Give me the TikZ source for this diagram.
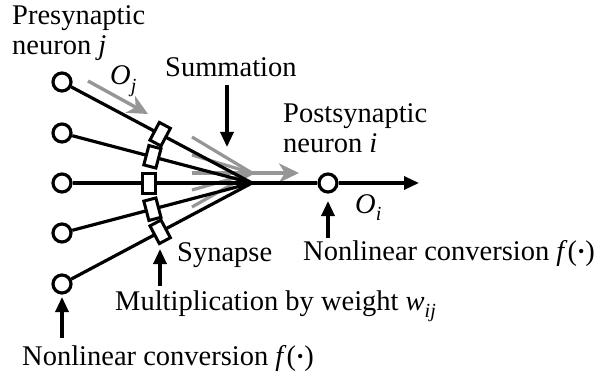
\documentclass[tikz,border=0pt]{standalone}
\usepackage{fontspec}
\setmainfont{Liberation Serif}
\usetikzlibrary{arrows.meta,calc}
\definecolor{grayarr}{RGB}{150,150,150}
\newcommand{\subtxt}[1]{\raisebox{-0.28em}{\fontsize{20}{20}\selectfont\textit{#1}}}
\newcommand{\fdot}{\textit{f}(\kern1pt\raisebox{0.1em}{\fontsize{18}{18}\selectfont•}\kern1pt)}
\begin{document}
\begin{tikzpicture}[x=1pt,y=-1pt,
 neuron/.style={circle,draw,line width=3.2pt,fill=white,minimum size=18pt,inner sep=0pt},
 syn/.style={rectangle,draw,line width=3pt,fill=white,minimum width=12.5pt,minimum height=20pt,inner sep=0pt},
 wire/.style={line width=3.2pt},
 graywire/.style={line width=3.2pt,draw=grayarr},
 blackarrow/.style={line width=3.2pt,-{Triangle[length=15pt,width=13pt]}},
 grayarrow/.style={line width=3.4pt,draw=grayarr,-{Stealth[length=20pt,width=19pt,inset=6pt]}},
 lbl/.style={font=\fontsize{28.5}{30}\selectfont,inner sep=0pt,anchor=base west}
]
\path[use as bounding box] (0,0) rectangle (602,377);

% gray signal lines
\coordinate (g1) at (192,137);
\coordinate (g2) at (192,155);
\coordinate (g3) at (192,173);
\coordinate (g4) at (192,190);
\coordinate (g5) at (192,207);
\coordinate (G) at (252,173);
\coordinate (Gend) at (299,173);
\foreach \k in {1,...,5} \draw[graywire] (g\k) -- (G);
\draw[grayarrow] (G) -- (Gend);

% O_j gray arrow
\coordinate (oja) at (88,81);
\coordinate (ojb) at (148,114);
\draw[grayarrow] (oja) -- (ojb);

% neurons
\node[neuron] (n1) at (62,82) {};
\node[neuron] (n2) at (62,133) {};
\node[neuron] (n3) at (62,183) {};
\node[neuron] (n4) at (62,233) {};
\node[neuron] (n5) at (62,284) {};
\coordinate (C) at (252,183);
\node[neuron] (post) at (328,183) {};
\coordinate (out) at (419,183);

\foreach \k in {1,...,5} \draw[wire] (n\k) -- (C);
\draw[wire] (C) -- (post);
\draw[blackarrow] (post) -- (out);

% synapses
\node[syn,rotate=-28] (s1) at ($(C)!104pt!(n1)$) {};
\node[syn,rotate=-14.7] (s2) at ($(C)!103pt!(n2)$) {};
\node[syn] (s3) at ($(C)!103pt!(n3)$) {};
\node[syn,rotate=14.7] (s4) at ($(C)!103pt!(n4)$) {};
\node[syn,rotate=28] (s5) at ($(C)!104pt!(n5)$) {};

% labels
\node[lbl] (pre1) at (12,25) {Presynaptic};
\node[lbl] (pre2) at (12,55) {neuron \textit{j}};
\node[lbl] (sum) at (165,77) {Summation};
\node[lbl] (oj) at (110,85) {\textit{O}\subtxt{j}};
\node[lbl] (post1) at (283,123) {Postsynaptic};
\node[lbl] (post2) at (283,153) {neuron \textit{i}};
\node[lbl] (oi) at (355,213) {\textit{O}\subtxt{i}};
\node[lbl] (nlr) at (303,260) {Nonlinear conversion \fdot};
\node[lbl] (synl) at (177,261) {Synapse};
\node[lbl] (mult) at (115,310) {Multiplication by weight \textit{w}\subtxt{ij}};
\node[lbl] (nlb) at (22,365) {Nonlinear conversion \fdot};

% black pointer arrows
\coordinate (sa) at (227,85);
\coordinate (sb) at (227,147);
\draw[blackarrow] (sa) -- (sb);
\coordinate (pa) at (328,238);
\coordinate (pb) at (328,201);
\draw[blackarrow] (pa) -- (pb);
\coordinate (ma) at (160,286);
\coordinate (mb) at (160,249);
\draw[blackarrow] (ma) -- (mb);
\coordinate (na) at (62,338);
\coordinate (nb) at (62,297);
\draw[blackarrow] (na) -- (nb);
\end{tikzpicture}
\end{document}
